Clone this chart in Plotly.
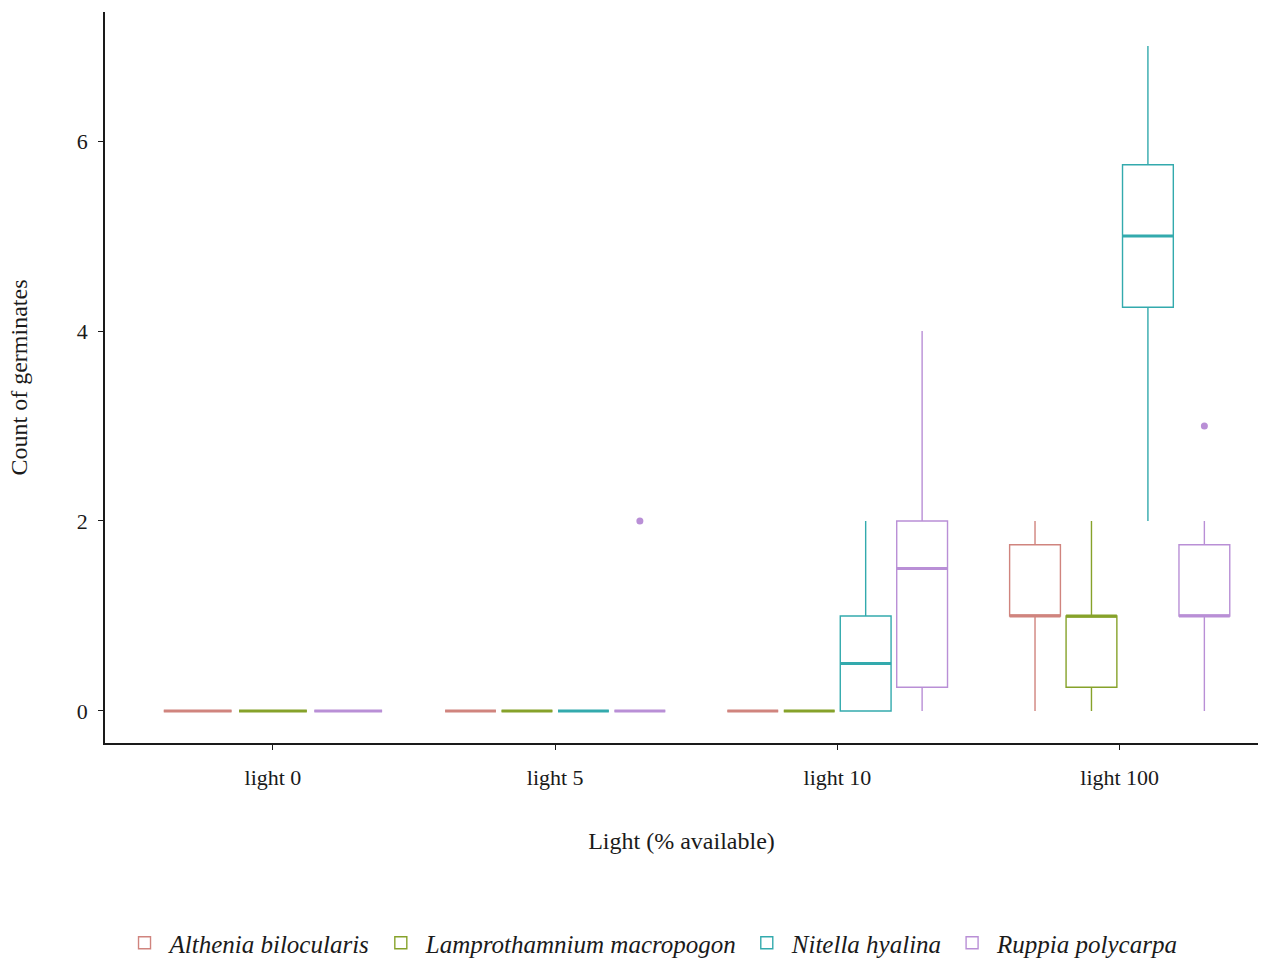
import plotly.graph_objects as go

# Light treatments (x categories) and species (series)
light_levels = ["light 0", "light 5", "light 10", "light 100"]
species = ["Althenia bilocularis", "Lamprothamnium macropogon",
           "Nitella hyalina", "Ruppia polycarpa"]
colors = ["#D0847E", "#86A22A", "#33AAAD", "#B98FD6"]

# Box statistics per species, one entry per light level (None = not sampled)
althenia_q1 = [0, 0, 0, 1.0]
althenia_median = [0, 0, 0, 1.0]
althenia_q3 = [0, 0, 0, 1.75]
althenia_low = [0, 0, 0, 0]
althenia_high = [0, 0, 0, 2]

lampro_q1 = [0, 0, 0, 0.25]
lampro_median = [0, 0, 0, 1.0]
lampro_q3 = [0, 0, 0, 1.0]
lampro_low = [0, 0, 0, 0]
lampro_high = [0, 0, 0, 2]

nitella_q1 = [None, 0, 0, 4.25]
nitella_median = [None, 0, 0.5, 5.0]
nitella_q3 = [None, 0, 1.0, 5.75]
nitella_low = [None, 0, 0, 2]
nitella_high = [None, 0, 2, 7]

ruppia_q1 = [0, 0, 0.25, 1.0]
ruppia_median = [0, 0, 1.5, 1.0]
ruppia_q3 = [0, 0, 2.0, 1.75]
ruppia_low = [0, 0, 0, 0]
ruppia_high = [0, 0, 4, 2]

# Outlying observations: (light level, value)
ruppia_outliers = [("light 5", 2), ("light 100", 3)]

stats = {
    species[0]: (althenia_q1, althenia_median, althenia_q3, althenia_low, althenia_high),
    species[1]: (lampro_q1, lampro_median, lampro_q3, lampro_low, lampro_high),
    species[2]: (nitella_q1, nitella_median, nitella_q3, nitella_low, nitella_high),
    species[3]: (ruppia_q1, ruppia_median, ruppia_q3, ruppia_low, ruppia_high),
}
outliers = {species[3]: ruppia_outliers}

FONT = "Times New Roman, Liberation Serif, serif"
DODGE_WIDTH = 0.8
PADDING = 0.1

# Dodge positions: boxes share the group width among the species present
positions = {}
for i, lvl in enumerate(light_levels):
    present = [sp for sp in species if stats[sp][1][i] is not None]
    slot = DODGE_WIDTH / len(present)
    for k, sp in enumerate(present):
        center = (i + 1) - DODGE_WIDTH / 2 + slot * (k + 0.5)
        positions[(sp, i)] = (center, slot * (1 - PADDING))

fig = go.Figure()
for sp, col in zip(species, colors):
    q1, med, q3, lo, hi = stats[sp]
    first = True
    mx, my = [], []
    for i in range(len(light_levels)):
        if med[i] is None:
            continue
        x, w = positions[(sp, i)]
        fig.add_trace(go.Box(
            x=[x], q1=[q1[i]], median=[med[i]], q3=[q3[i]],
            lowerfence=[lo[i]], upperfence=[hi[i]],
            width=w, whiskerwidth=0, boxpoints=False,
            line=dict(color=col, width=1.4), fillcolor="white",
            name=sp, legendgroup=sp, showlegend=first,
        ))
        first = False
        mx += [x - w / 2, x + w / 2, None]
        my += [med[i], med[i], None]
    # thicker median bars
    fig.add_trace(go.Scatter(x=mx, y=my, mode="lines",
                             line=dict(color=col, width=2.8),
                             legendgroup=sp, showlegend=False, hoverinfo="skip"))
    if sp in outliers:
        ox = [positions[(sp, light_levels.index(l))][0] for l, _ in outliers[sp]]
        oy = [v for _, v in outliers[sp]]
        fig.add_trace(go.Scatter(x=ox, y=oy, mode="markers",
                                 marker=dict(color=col, size=7),
                                 legendgroup=sp, showlegend=False))

fig.update_layout(
    width=1262, height=961,
    margin=dict(l=105, r=4, t=12, b=218, autoexpand=False),
    plot_bgcolor="white", paper_bgcolor="white",
    font=dict(family=FONT, size=22, color="#1a1a1a"),
    boxmode="overlay",
    legend=dict(orientation="h", x=0.474, xanchor="center", y=-0.2736, yanchor="middle",
                font=dict(family=FONT, size=25, style="italic", color="#1a1a1a"),
                itemwidth=40, traceorder="normal"),
)
fig.update_xaxes(
    range=[0.405, 4.49], tickmode="array", tickvals=[1, 2, 3, 4], ticktext=light_levels,
    showline=True, linecolor="#1a1a1a", linewidth=1.6, ticks="outside", ticklen=5,
    tickcolor="#1a1a1a", showgrid=False, zeroline=False, ticklabelstandoff=9,
    automargin=False,
    title=dict(text="Light (% available)", standoff=43, font=dict(size=24)),
)
fig.update_yaxes(
    range=[-0.337, 7.358], tickvals=[0, 2, 4, 6],
    showline=True, linecolor="#1a1a1a", linewidth=1.6, ticks="outside", ticklen=5,
    tickcolor="#1a1a1a", showgrid=False, zeroline=False, ticklabelstandoff=6,
    automargin=False,
    title=dict(text="Count of germinates", standoff=42, font=dict(size=24)),
)

fig.write_html("out.html")
